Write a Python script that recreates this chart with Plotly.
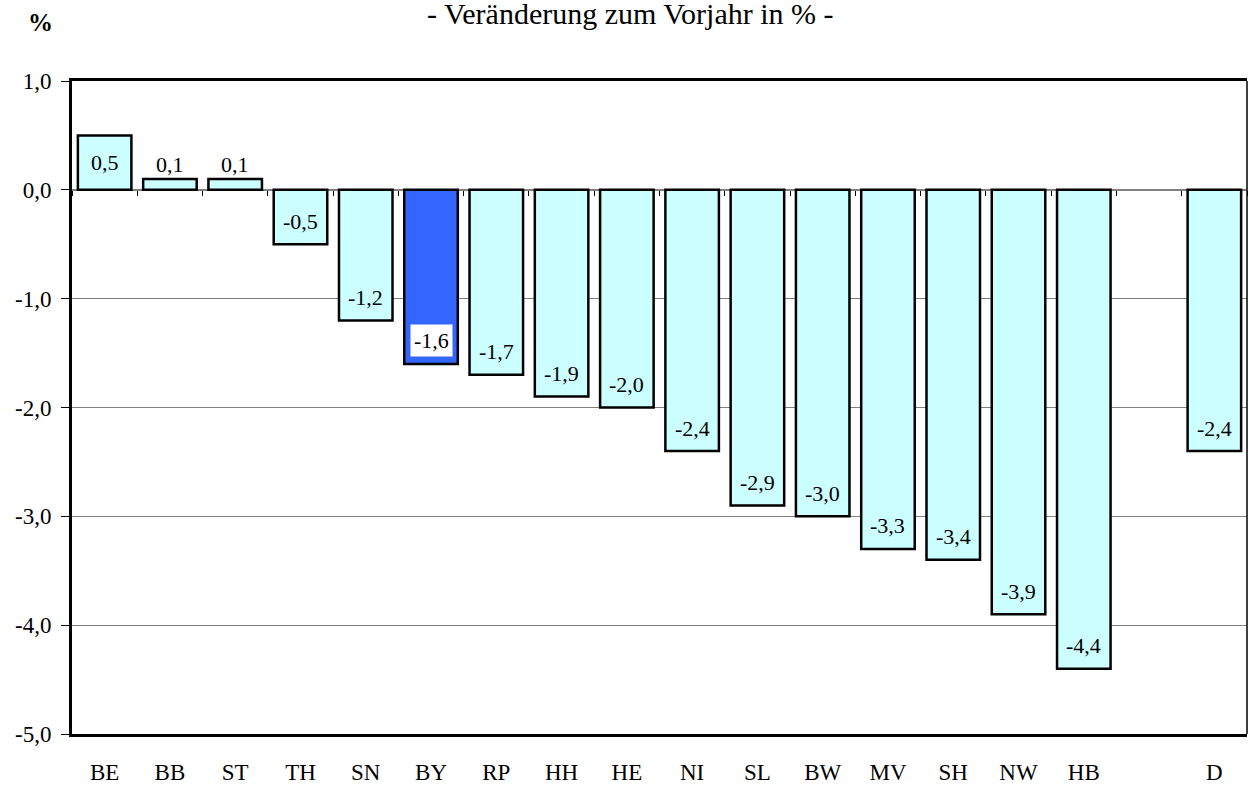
import plotly.graph_objects as go

categories = ["BE", "BB", "ST", "TH", "SN", "BY", "RP", "HH", "HE", "NI",
              "SL", "BW", "MV", "SH", "NW", "HB", " ", "D"]
values = [0.5, 0.1, 0.1, -0.5, -1.2, -1.6, -1.7, -1.9, -2.0, -2.4,
          -2.9, -3.0, -3.3, -3.4, -3.9, -4.4, None, -2.4]
highlight = "BY"
y_ticks = [1.0, 0.0, -1.0, -2.0, -3.0, -4.0, -5.0]

FONT = "Liberation Serif"
base_col = "#CCFFFF"
hi_col = "#3366FF"
colors = [hi_col if c == highlight else base_col for c in categories]


def fmt(v):
    return f"{v:.1f}".replace(".", ",")


fig = go.Figure()
fig.add_trace(go.Bar(
    x=categories, y=values, width=0.82,
    marker=dict(color=colors, line=dict(color="black", width=2.5)),
    hoverinfo="skip", showlegend=False,
))
# invisible helper trace for the zero-line tick axis
fig.add_trace(go.Scatter(
    x=categories, y=[v if v is not None else 0 for v in values],
    xaxis="x2", mode="markers", marker=dict(opacity=0, size=1),
    hoverinfo="skip", showlegend=False,
))

for c, v in zip(categories, values):
    if v is None:
        continue
    if v < 0:
        ys = 23
    elif v > 0.3:
        ys = -27
    else:
        ys = 14
    fig.add_annotation(
        x=c, y=v, yshift=ys, text=fmt(v), showarrow=False,
        font=dict(family=FONT, size=22, color="black"),
        bgcolor="white" if c == highlight else None,
        borderpad=3,
    )

fig.add_annotation(
    xref="paper", yref="paper", x=0.475, xanchor="center",
    y=1.103, yanchor="middle",
    text="- Veränderung zum Vorjahr in % -", showarrow=False,
    font=dict(family=FONT, size=30, color="black"),
)
fig.add_annotation(
    xref="paper", yref="paper", x=-0.027, xanchor="center",
    y=1.090, yanchor="middle",
    text="<b>%</b>", showarrow=False,
    font=dict(family=FONT, size=25, color="black"),
)
fig.add_shape(type="line", xref="paper", yref="paper", x0=1, x1=1, y0=0, y1=1,
              line=dict(color="black", width=1.5))

xrange = [-0.5, len(categories) - 0.5]

fig.update_layout(
    width=1249, height=787,
    margin=dict(l=72, r=2, t=81, b=51),
    paper_bgcolor="white", plot_bgcolor="white",
    font=dict(family=FONT, size=23, color="black"),
    xaxis=dict(
        type="category", categoryorder="array", categoryarray=categories,
        range=xrange,
        showline=True, linecolor="black", linewidth=3, mirror=True,
        ticks="", showgrid=False, zeroline=False,
        tickfont=dict(family=FONT, size=23), ticklabelstandoff=15,
    ),
    xaxis2=dict(
        type="category", categoryorder="array", categoryarray=categories,
        range=xrange,
        overlaying="x", anchor="free", position=5/6, side="bottom",
        showticklabels=False, ticks="outside", tickson="boundaries",
        ticklen=5, tickcolor="black", tickwidth=1,
        showline=False, showgrid=False, zeroline=False,
    ),
    yaxis=dict(
        range=[-5, 1], tickvals=y_ticks, ticktext=[fmt(v) for v in y_ticks],
        showline=True, linecolor="black", linewidth=3,
        ticks="outside", ticklen=8, tickcolor="black", tickwidth=1,
        showgrid=True, gridcolor="#808080", gridwidth=1,
        zeroline=True, zerolinecolor="#808080", zerolinewidth=1.5,
        tickfont=dict(family=FONT, size=23), ticklabelstandoff=5,
    ),
)

fig.write_html(
    "out.html",
    config={"displayModeBar": False},
    post_script="document.body.style.margin='0px';document.body.style.overflow='hidden';",
)
